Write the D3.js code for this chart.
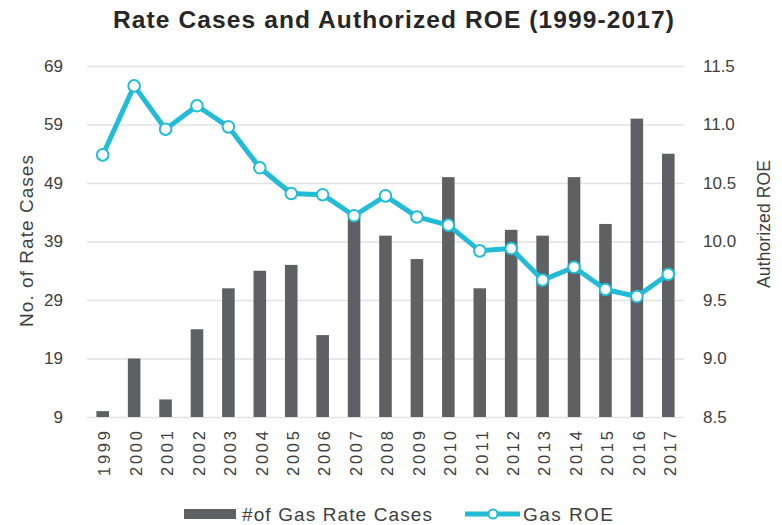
<!DOCTYPE html>
<html>
<head>
<meta charset="utf-8">
<script src="https://cdn.jsdelivr.net/npm/d3@7"></script>
<style>
  body { margin: 0; background: #fff; }
  text { font-family: "Liberation Sans", Arial, sans-serif; }
</style>
</head>
<body>
<svg class="combo" width="782" height="525"></svg>
<script>
const years = ['1999', '2000', '2001', '2002', '2003', '2004', '2005', '2006', '2007', '2008',
    '2009', '2010', '2011', '2012', '2013', '2014', '2015', '2016', '2017'];
const rateCases = [10, 19, 12, 24, 31, 34, 35, 23, 43, 40, 36, 50, 31, 41, 40, 50, 42, 60, 54];
const gasRoe = [10.74, 11.33, 10.96, 11.16, 10.98, 10.63, 10.41, 10.40, 10.22, 10.39,
    10.21, 10.14, 9.92, 9.94, 9.67, 9.78, 9.59, 9.53, 9.72];
const leftTicks = [9, 19, 29, 39, 49, 59, 69];
const rightTicks = [8.5, 9.0, 9.5, 10.0, 10.5, 11.0, 11.5];

const svg = d3.select('.combo');
const margin = { top: 66, right: 98, bottom: 108, left: 87 };
const width = +svg.attr('width');
const height = +svg.attr('height');
const innerWidth = width - margin.left - margin.right;
const innerHeight = height - margin.top - margin.bottom;

const barColor = '#5f6064';
const lineColor = '#22bcd6';
const textColor = '#404040';

const xScale = d3.scaleBand()
    .domain(years)
    .range([0, innerWidth])
    .paddingInner(0.6)
    .paddingOuter(0.3);

const yLeft = d3.scaleLinear()
    .domain([9, 69])
    .range([innerHeight, 0]);

const yRight = d3.scaleLinear()
    .domain([8.5, 11.5])
    .range([innerHeight, 0]);

// title (the original text is set quite wide)
svg.append('text')
    .attr('x', 113)
    .attr('y', 28)
    .attr('textLength', 561)
    .attr('lengthAdjust', 'spacing')
    .style('font-size', '24.5px')
    .style('font-weight', 'bold')
    .attr('fill', '#262626')
    .text('Rate Cases and Authorized ROE (1999-2017)');

const g = svg.append('g')
    .attr('transform', `translate(${margin.left}, ${margin.top})`);

// gridlines
g.append('g')
    .call(d3.axisLeft(yLeft).tickValues(leftTicks).tickSize(-innerWidth).tickFormat(''))
    .call(s => s.select('.domain').remove())
    .selectAll('line')
    .attr('stroke', '#e2e2e2')
    .attr('stroke-width', 1.5);

// left axis
g.append('g')
    .call(d3.axisLeft(yLeft).tickValues(leftTicks).tickSize(0).tickPadding(24))
    .call(s => s.select('.domain').remove())
    .selectAll('text')
    .style('font-size', '17px')
    .style('font-family', '"Liberation Sans", Arial, sans-serif')
    .attr('fill', textColor);

// right axis
g.append('g')
    .attr('transform', `translate(${innerWidth}, 0)`)
    .call(d3.axisRight(yRight).tickValues(rightTicks).tickSize(0).tickPadding(19).tickFormat(d3.format('.1f')))
    .call(s => s.select('.domain').remove())
    .selectAll('text')
    .style('font-size', '17px')
    .style('font-family', '"Liberation Sans", Arial, sans-serif')
    .attr('fill', textColor);

// x axis (years, rotated)
g.append('g')
    .attr('transform', `translate(0, ${innerHeight})`)
    .call(d3.axisBottom(xScale).tickSize(0))
    .call(s => s.select('.domain').remove())
    .selectAll('text')
    .style('font-size', '16.5px')
    .style('font-family', '"Liberation Sans", Arial, sans-serif')
    .attr('fill', textColor)
    .attr('text-anchor', 'end')
    .attr('transform', 'rotate(-90)')
    .attr('textLength', 45)
    .attr('lengthAdjust', 'spacing')
    .attr('x', -14)
    .attr('y', 2)
    .attr('dy', '0.35em');

// axis titles
svg.append('text')
    .attr('transform', `translate(33, ${241}) rotate(-90)`)
    .attr('text-anchor', 'middle')
    .attr('textLength', 172)
    .attr('lengthAdjust', 'spacing')
    .style('font-size', '19px')
    .attr('fill', textColor)
    .text('No. of Rate Cases');

svg.append('text')
    .attr('transform', `translate(770, ${224}) rotate(-90)`)
    .attr('text-anchor', 'middle')
    .attr('textLength', 128)
    .attr('lengthAdjust', 'spacing')
    .style('font-size', '17.5px')
    .attr('fill', textColor)
    .text('Authorized ROE');

// bars
g.append('g')
    .selectAll('rect')
    .data(years.map((y, i) => ({ year: y, value: rateCases[i] })))
    .join('rect')
    .attr('x', d => xScale(d.year))
    .attr('y', d => yLeft(d.value))
    .attr('width', xScale.bandwidth())
    .attr('height', d => yLeft(9) - yLeft(d.value))
    .attr('fill', barColor);

// line
const roeData = years.map((y, i) => ({ year: y, value: gasRoe[i] }));
const line = d3.line()
    .x(d => xScale(d.year) + xScale.bandwidth() / 2)
    .y(d => yRight(d.value));

g.append('path')
    .datum(roeData)
    .attr('d', line)
    .attr('fill', 'none')
    .attr('stroke', lineColor)
    .attr('stroke-width', 5)
    .attr('stroke-linejoin', 'round');

g.append('g')
    .selectAll('circle')
    .data(roeData)
    .join('circle')
    .attr('cx', d => xScale(d.year) + xScale.bandwidth() / 2)
    .attr('cy', d => yRight(d.value))
    .attr('r', 5.8)
    .attr('fill', '#fff')
    .attr('stroke', lineColor)
    .attr('stroke-width', 2);

// legend
const legend = svg.append('g').attr('transform', 'translate(0, 514)');
legend.append('rect')
    .attr('x', 184)
    .attr('y', -5)
    .attr('width', 52)
    .attr('height', 10)
    .attr('fill', barColor);
legend.append('text')
    .attr('x', 242)
    .attr('y', 0)
    .attr('dy', '0.35em')
    .attr('textLength', 190)
    .attr('lengthAdjust', 'spacing')
    .style('font-size', '19px')
    .attr('fill', textColor)
    .text('#of Gas Rate Cases');
legend.append('line')
    .attr('x1', 465)
    .attr('x2', 520)
    .attr('stroke', lineColor)
    .attr('stroke-width', 5);
legend.append('circle')
    .attr('cx', 493)
    .attr('r', 4.5)
    .attr('fill', '#fff')
    .attr('stroke', lineColor)
    .attr('stroke-width', 2);
legend.append('text')
    .attr('x', 523)
    .attr('y', 0)
    .attr('dy', '0.35em')
    .attr('textLength', 90)
    .attr('lengthAdjust', 'spacing')
    .style('font-size', '19px')
    .attr('fill', textColor)
    .text('Gas ROE');
</script>
</body>
</html>
